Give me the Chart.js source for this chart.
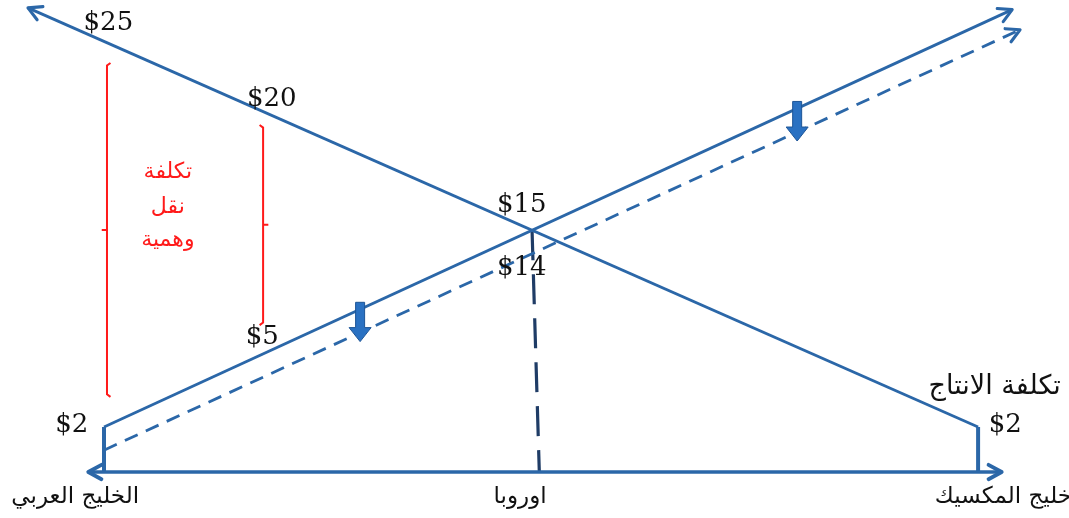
<!DOCTYPE html>
<html lang="ar">
<head>
<meta charset="utf-8">
<script src="https://cdn.jsdelivr.net/npm/chart.js@4.4.0/dist/chart.umd.min.js"></script>
<style>
html, body { margin: 0; padding: 0; background: #fff; }
#wrap { width: 1069px; height: 518px; }
</style>
</head>
<body>
<div id="wrap"><canvas id="costChart"></canvas></div>
<script>
// diagram units: distance 0 = Arab Gulf, 100 = Gulf of Mexico; height = cost level
const places = ["الخليج العربي", "اوروبا", "خليج المكسيك"];
const placeX = [-3.3, 47.6, 102.9];
const placeY = [-2.9, -2.9, -2.9];

const priceLabels = ["$25", "$20", "$15", "$14", "$5", "$2", "$2"];
const priceX = [0.5, 19.2, 47.8, 47.8, 18.1, -3.7, 103.1];
const priceY = [51.3, 42.6, 30.5, 23.3, 15.4, 5.4, 5.4];

const axisX = [-1.8, 102.7];
const stemX = [0, 100];
const stemTop = [5.15, 5.15];
const riseX = [0, 103.9];
const riseY = [5.15, 52.9];
const fallX = [100, -8.7];
const fallY = [5.15, 53.1];
const shiftX = [0, 104.8];
const shiftY = [2.5, 50.6];
const europeX = [48.97, 49.8];
const europeY = [27.66, 0];

const bracketX = [0.34, 18.2];
const bracketTop = [46.8, 39.7];
const bracketMid = [27.7, 28.3];
const bracketBottom = [8.6, 16.8];
const bracketText = ["تكلفة", "نقل", "وهمية"];
const bracketTextX = 7.3;
const bracketTextY = [34.3, 30.3, 26.5];

const prodLabel = "تكلفة الانتاج";
const prodLabelX = 101.9;
const prodLabelY = 9.7;

const dropX = [29.3, 79.3];

const blue = "#2b67a8";

function pts(xs, ys) {
    return xs.map((x, i) => ({ x: x, y: ys[i] }));
}

function bracket(i, dir) {
    const bx = bracketX[i];
    return [
        { x: bx + 0.4 * dir, y: bracketTop[i] },
        { x: bx, y: bracketTop[i] - 0.3 },
        { x: bx, y: bracketMid[i] },
        { x: bx - 0.6 * dir, y: bracketMid[i] },
        { x: bx, y: bracketMid[i] },
        { x: bx, y: bracketBottom[i] + 0.3 },
        { x: bx + 0.4 * dir, y: bracketBottom[i] }
    ];
}

function lineSet(data, color, width, extra) {
    return Object.assign({
        data: data,
        showLine: true,
        borderColor: color,
        borderWidth: width,
        pointRadius: 0,
        tension: 0,
        fill: false
    }, extra || {});
}

const datasets = [
    lineSet(pts(axisX, [0, 0]), blue, 3.5, { arrow: "both" }),
    lineSet([{ x: stemX[0], y: 0 }, { x: stemX[0], y: stemTop[0] }], blue, 4),
    lineSet([{ x: stemX[1], y: 0 }, { x: stemX[1], y: stemTop[1] }], blue, 4),
    lineSet(pts(riseX, riseY), blue, 2.8, { arrow: "end" }),
    lineSet(pts(fallX, fallY), blue, 2.8, { arrow: "end" }),
    lineSet(pts(shiftX, shiftY), blue, 2.8, { arrow: "end", borderDash: [14, 9] }),
    lineSet(pts(europeX, europeY), "#1f3c66", 3.2, { borderDash: [30, 14] }),
    lineSet(bracket(0, 1), "#ff1a1a", 2),
    lineSet(bracket(1, -1), "#ff1a1a", 2)
];

// open arrow heads at the ends of marked lines
const arrowPlugin = {
    id: "arrows",
    afterDatasetsDraw(chart) {
        const ctx = chart.ctx;
        chart.data.datasets.forEach((ds, i) => {
            if (!ds.arrow) return;
            const p = chart.getDatasetMeta(i).data;
            const heads = [[p[p.length - 2], p[p.length - 1]]];
            if (ds.arrow === "both") heads.push([p[1], p[0]]);
            heads.forEach(([a, b]) => {
                const ang = Math.atan2(b.y - a.y, b.x - a.x);
                const len = 15, spread = 0.5;
                ctx.save();
                ctx.strokeStyle = ds.borderColor;
                ctx.lineWidth = ds.borderWidth + 0.3;
                ctx.lineCap = "round";
                ctx.lineJoin = "round";
                ctx.beginPath();
                ctx.moveTo(b.x - len * Math.cos(ang - spread), b.y - len * Math.sin(ang - spread));
                ctx.lineTo(b.x, b.y);
                ctx.lineTo(b.x - len * Math.cos(ang + spread), b.y - len * Math.sin(ang + spread));
                ctx.stroke();
                ctx.restore();
            });
        });
    }
};

// block arrows showing the shift of the supply line
const dropPlugin = {
    id: "drops",
    afterDatasetsDraw(chart) {
        const ctx = chart.ctx;
        const xs = chart.scales.x, ys = chart.scales.y;
        const lineAt = (xv, yv, x) => yv[0] + (yv[1] - yv[0]) * (x - xv[0]) / (xv[1] - xv[0]);
        dropX.forEach(dx => {
            const px = xs.getPixelForValue(dx);
            const top = ys.getPixelForValue(lineAt(riseX, riseY, dx)) - 7;
            const tip = ys.getPixelForValue(lineAt(shiftX, shiftY, dx)) + 9;
            const headH = 14;
            ctx.save();
            ctx.fillStyle = "#2a71c2";
            ctx.strokeStyle = "#1d5597";
            ctx.lineWidth = 1;
            ctx.beginPath();
            ctx.moveTo(px - 4.5, top);
            ctx.lineTo(px + 4.5, top);
            ctx.lineTo(px + 4.5, tip - headH);
            ctx.lineTo(px + 11, tip - headH);
            ctx.lineTo(px, tip);
            ctx.lineTo(px - 11, tip - headH);
            ctx.lineTo(px - 4.5, tip - headH);
            ctx.closePath();
            ctx.fill();
            ctx.stroke();
            ctx.restore();
        });
    }
};

const textPlugin = {
    id: "texts",
    afterDatasetsDraw(chart) {
        const ctx = chart.ctx;
        const xs = chart.scales.x, ys = chart.scales.y;
        const put = (t, x, y, font, color) => {
            ctx.font = font;
            ctx.fillStyle = color;
            ctx.fillText(t, xs.getPixelForValue(x), ys.getPixelForValue(y));
        };
        ctx.save();
        ctx.textAlign = "center";
        ctx.textBaseline = "middle";
        priceLabels.forEach((t, i) => put(t, priceX[i], priceY[i], '26px "DejaVu Serif"', "#111"));
        places.forEach((t, i) => put(t, placeX[i], placeY[i], '23px "DejaVu Sans"', "#111"));
        bracketText.forEach((t, i) => put(t, bracketTextX, bracketTextY[i], '22px "DejaVu Sans"', "#ff1a1a"));
        put(prodLabel, prodLabelX, prodLabelY, '27px "DejaVu Sans"', "#111");
        ctx.restore();
    }
};

new Chart(document.getElementById("costChart").getContext("2d"), {
    type: "scatter",
    data: { datasets: datasets },
    options: {
        responsive: true,
        maintainAspectRatio: false,
        animation: false,
        layout: { padding: 0 },
        plugins: { legend: { display: false }, tooltip: { enabled: false } },
        scales: {
            x: { type: "linear", display: false, min: -11.9, max: 110.4 },
            y: { type: "linear", display: false, min: -5.26, max: 54.0 }
        }
    },
    plugins: [arrowPlugin, dropPlugin, textPlugin]
});
</script>
</body>
</html>
